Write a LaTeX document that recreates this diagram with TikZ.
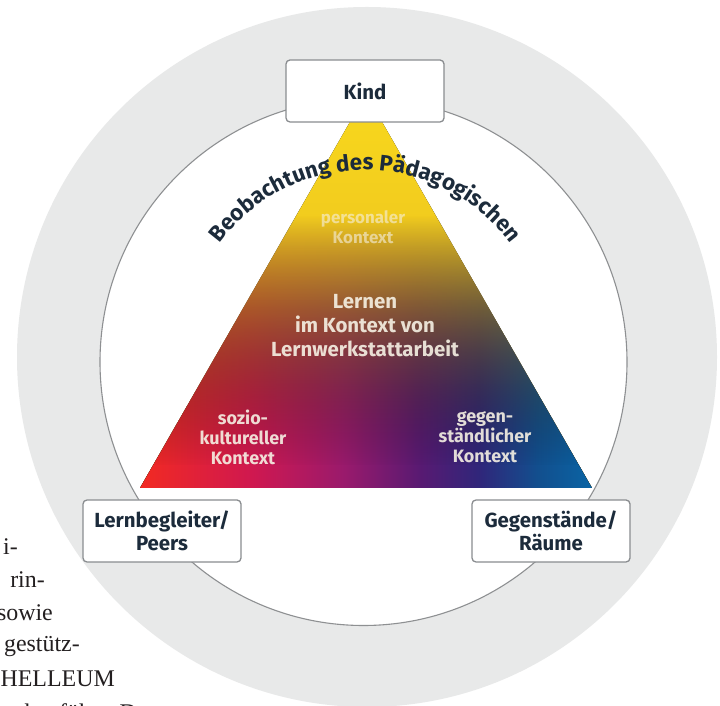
\documentclass[tikz,border=0pt]{standalone}
\usepackage{fontspec}
\setmainfont{Fira Sans}
\newfontfamily\seriffont{Liberation Serif}
\usetikzlibrary{fadings,decorations.text}
\definecolor{bgGrey}{HTML}{E8E9E9}
\definecolor{ringGrey}{HTML}{8E9092}
\definecolor{boxGrey}{HTML}{8A8D90}
\definecolor{navy}{HTML}{1C2B3B}
\definecolor{cream}{HTML}{F6F1E4}
\definecolor{pageInk}{HTML}{231F20}
\definecolor{cYtop}{HTML}{F8D81C}
\definecolor{cYbot}{HTML}{E4B224}
\definecolor{cR}{HTML}{F22A22}
\definecolor{cC}{HTML}{CF1850}
\definecolor{cM}{HTML}{9A1A6C}
\definecolor{cP}{HTML}{581A72}
\definecolor{cI}{HTML}{30267A}
\definecolor{cBd}{HTML}{124F8E}
\definecolor{cB}{HTML}{0A64A4}
\pgfdeclarehorizontalshading{botcols}{100bp}{color(0bp)=(cR); color(25bp)=(cR); color(37.5bp)=(cC); color(47.5bp)=(cM); color(56bp)=(cP); color(62.5bp)=(cI); color(69bp)=(cBd); color(75bp)=(cB); color(100bp)=(cB)}
\tikzset{
  boxstyle/.style={draw=boxGrey, line width=1.3bp, fill=white, rounded corners=4bp,
    minimum width=158bp, minimum height=62bp, inner sep=0pt, align=center,
    font=\bfseries\fontsize{20.5}{23}\selectfont, text=navy},
  tritext/.style={align=center, text=cream, inner sep=0pt,
    font=\bfseries\fontsize{20.5}{24}\selectfont},
  smalltri/.style={align=center, text=cream, inner sep=0pt,
    font=\bfseries\fontsize{18}{20}\selectfont},
  perstext/.style={align=center, text=cream, inner sep=0pt,
    font=\bfseries\fontsize{17}{20}\selectfont},
  pagetext/.style={anchor=base east, inner sep=0pt, text=pageInk,
    font=\seriffont\fontsize{24}{24}\selectfont}
}
\begin{document}
\begin{tikzpicture}[x=1bp,y=1bp]
\useasboundingbox (0,0) rectangle (720,706);
\fill[white] (0,0) rectangle (720,706);
% page text fragments
\node[pagetext] (p1) at (18,151) {i-};
\node[pagetext] (p2) at (45,118) {rin-};
\node[pagetext] (p3) at (53,85) {sowie};
\node[pagetext] (p4) at (80,54) {gestütz-};
\node[pagetext] (p5) at (115,19) {HELLEUM};
\node[pagetext] (p6) at (157,-14) {chgeführt. Das};
% grey disc and white ring
\fill[bgGrey] (367,349) circle (350);
\draw[ringGrey, line width=1.1bp, fill=white] (363.5,344) circle (263.5);
% pyramid
\begin{scope}
  \clip (366,612) -- (140,218) -- (592,218) -- cycle;
  \fill[top color=cYtop, bottom color=cYbot] (140,218) rectangle (592,612);
  \fill[shading=botcols, path fading=north] (140,239) rectangle (592,490);
  \fill[shading=botcols] (140,210) rectangle (592,240);
\end{scope}
% curved title
\path[decorate, decoration={text along path, text align=center,
  text={|\bfseries\fontsize{22.5}{26}\selectfont\color{navy}|Beobachtung des Pädagogischen}}]
  (365,355) ++(150:181) arc[start angle=150, end angle=30, radius=181];
% texts in pyramid
\node[perstext, text opacity=0.6] (pers) at (363,479) {personaler\\Kontext};
\node[tritext, text opacity=0.9] (lern) at (365,380) {Lernen\\im Kontext von\\Lernwerkstattarbeit};
\node[smalltri, text opacity=0.9] (sozio) at (243,269) {sozio-\\kultureller\\Kontext};
\node[smalltri, text opacity=0.9] (gegen) at (485,269) {gegen-\\ständlicher\\Kontext};
% corner boxes
\node[boxstyle] (kind) at (365,615) {Kind};
\node[boxstyle] (peers) at (162,175) {Lernbegleiter/\\Peers};
\node[boxstyle] (raum) at (551,175) {Gegenstände/\\Räume};
\end{tikzpicture}
\end{document}
